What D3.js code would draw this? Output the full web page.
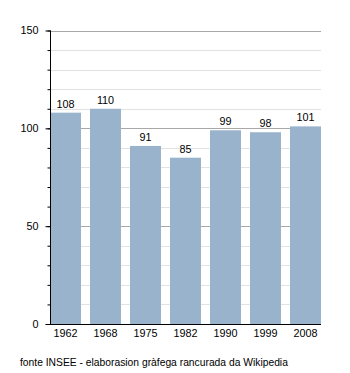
<!DOCTYPE html>
<html>
<head>
<meta charset="utf-8">
<script src="https://cdn.jsdelivr.net/npm/d3@7"></script>
<style>
  html, body { margin: 0; padding: 0; background: #fff; }
  svg { display: block; font-family: "Liberation Sans", Arial, sans-serif; }
</style>
</head>
<body>
<svg id="chart" width="350" height="373"></svg>
<script>
// Population by census year
const years = ["1962", "1968", "1975", "1982", "1990", "1999", "2008"];
const population = [108, 110, 91, 85, 99, 98, 101];
const majorTicks = [0, 50, 100, 150];
const minorTicks = d3.range(0, 151, 10);
const sourceNote = "fonte INSEE - elaborasion gràfega rancurada da Wikipedia";

(function () {
  const svg = d3.select("#chart");
  const plotLeft = 50, plotRight = 321, plotTop = 30.5, plotBottom = 324;

  const x = d3.scaleBand().domain(years).range([plotLeft, plotRight])
    .paddingInner(0.225).paddingOuter(0).align(0);
  const y = d3.scaleLinear().domain([0, 150]).range([plotBottom, plotTop]);

  // minor grid
  svg.append("g").selectAll("line").data(minorTicks.filter(d => d % 50 !== 0)).join("line")
    .attr("x1", plotLeft).attr("x2", plotRight)
    .attr("y1", d => Math.round(y(d)) + 0.5).attr("y2", d => Math.round(y(d)) + 0.5)
    .attr("stroke", "#e2e2e2").attr("stroke-width", 1);
  // major grid
  svg.append("g").selectAll("line").data(majorTicks.filter(d => d > 0)).join("line")
    .attr("x1", plotLeft).attr("x2", plotRight)
    .attr("y1", d => Math.round(y(d)) + 0.5).attr("y2", d => Math.round(y(d)) + 0.5)
    .attr("stroke", "#a8a8a8").attr("stroke-width", 1);

  // bars
  svg.append("g").selectAll("rect").data(population).join("rect")
    .attr("x", (d, i) => x(years[i]))
    .attr("width", x.bandwidth())
    .attr("y", d => y(d))
    .attr("height", d => y(0) - y(d))
    .attr("fill", "#99b3cc");

  // value labels
  svg.append("g").selectAll("text").data(population).join("text")
    .attr("x", (d, i) => x(years[i]) + x.bandwidth() / 2)
    .attr("y", d => y(d) - 5)
    .attr("text-anchor", "middle")
    .attr("font-size", 10.8).attr("fill", "#000")
    .text(d => d);

  // y axis with major and minor ticks
  const yAxisG = svg.append("g").attr("transform", `translate(${plotLeft + 0.5},0)`);
  yAxisG.call(d3.axisLeft(y).tickValues(minorTicks).tickSize(3).tickFormat(""))
    .call(g => g.select(".domain").remove());
  yAxisG.append("g").call(d3.axisLeft(y).tickValues(majorTicks).tickSize(5).tickPadding(7)
      .tickFormat(d3.format("d")))
    .call(g => g.select(".domain").remove())
    .call(g => g.selectAll("text").attr("font-size", 10.8).attr("fill", "#000")
      .attr("font-family", "Liberation Sans, Arial, sans-serif"));
  yAxisG.selectAll("line").attr("stroke", "#000");
  yAxisG.append("line").attr("x1", 0).attr("x2", 0).attr("y1", plotTop).attr("y2", plotBottom)
    .attr("stroke", "#000");

  // x axis
  const xAxisG = svg.append("g").attr("transform", `translate(0,${plotBottom + 0.5})`)
    .call(d3.axisBottom(x).tickSize(0).tickPadding(5));
  xAxisG.select(".domain").attr("d", `M${plotLeft},0H${plotRight}`).attr("stroke", "#000");
  xAxisG.selectAll("text").attr("font-size", 10.8).attr("fill", "#000")
    .attr("font-family", "Liberation Sans, Arial, sans-serif");

  // source note
  svg.append("text").attr("x", 20).attr("y", 366)
    .attr("font-size", 10.3).attr("fill", "#000")
    .text(sourceNote);
})();
</script>
</body>
</html>
